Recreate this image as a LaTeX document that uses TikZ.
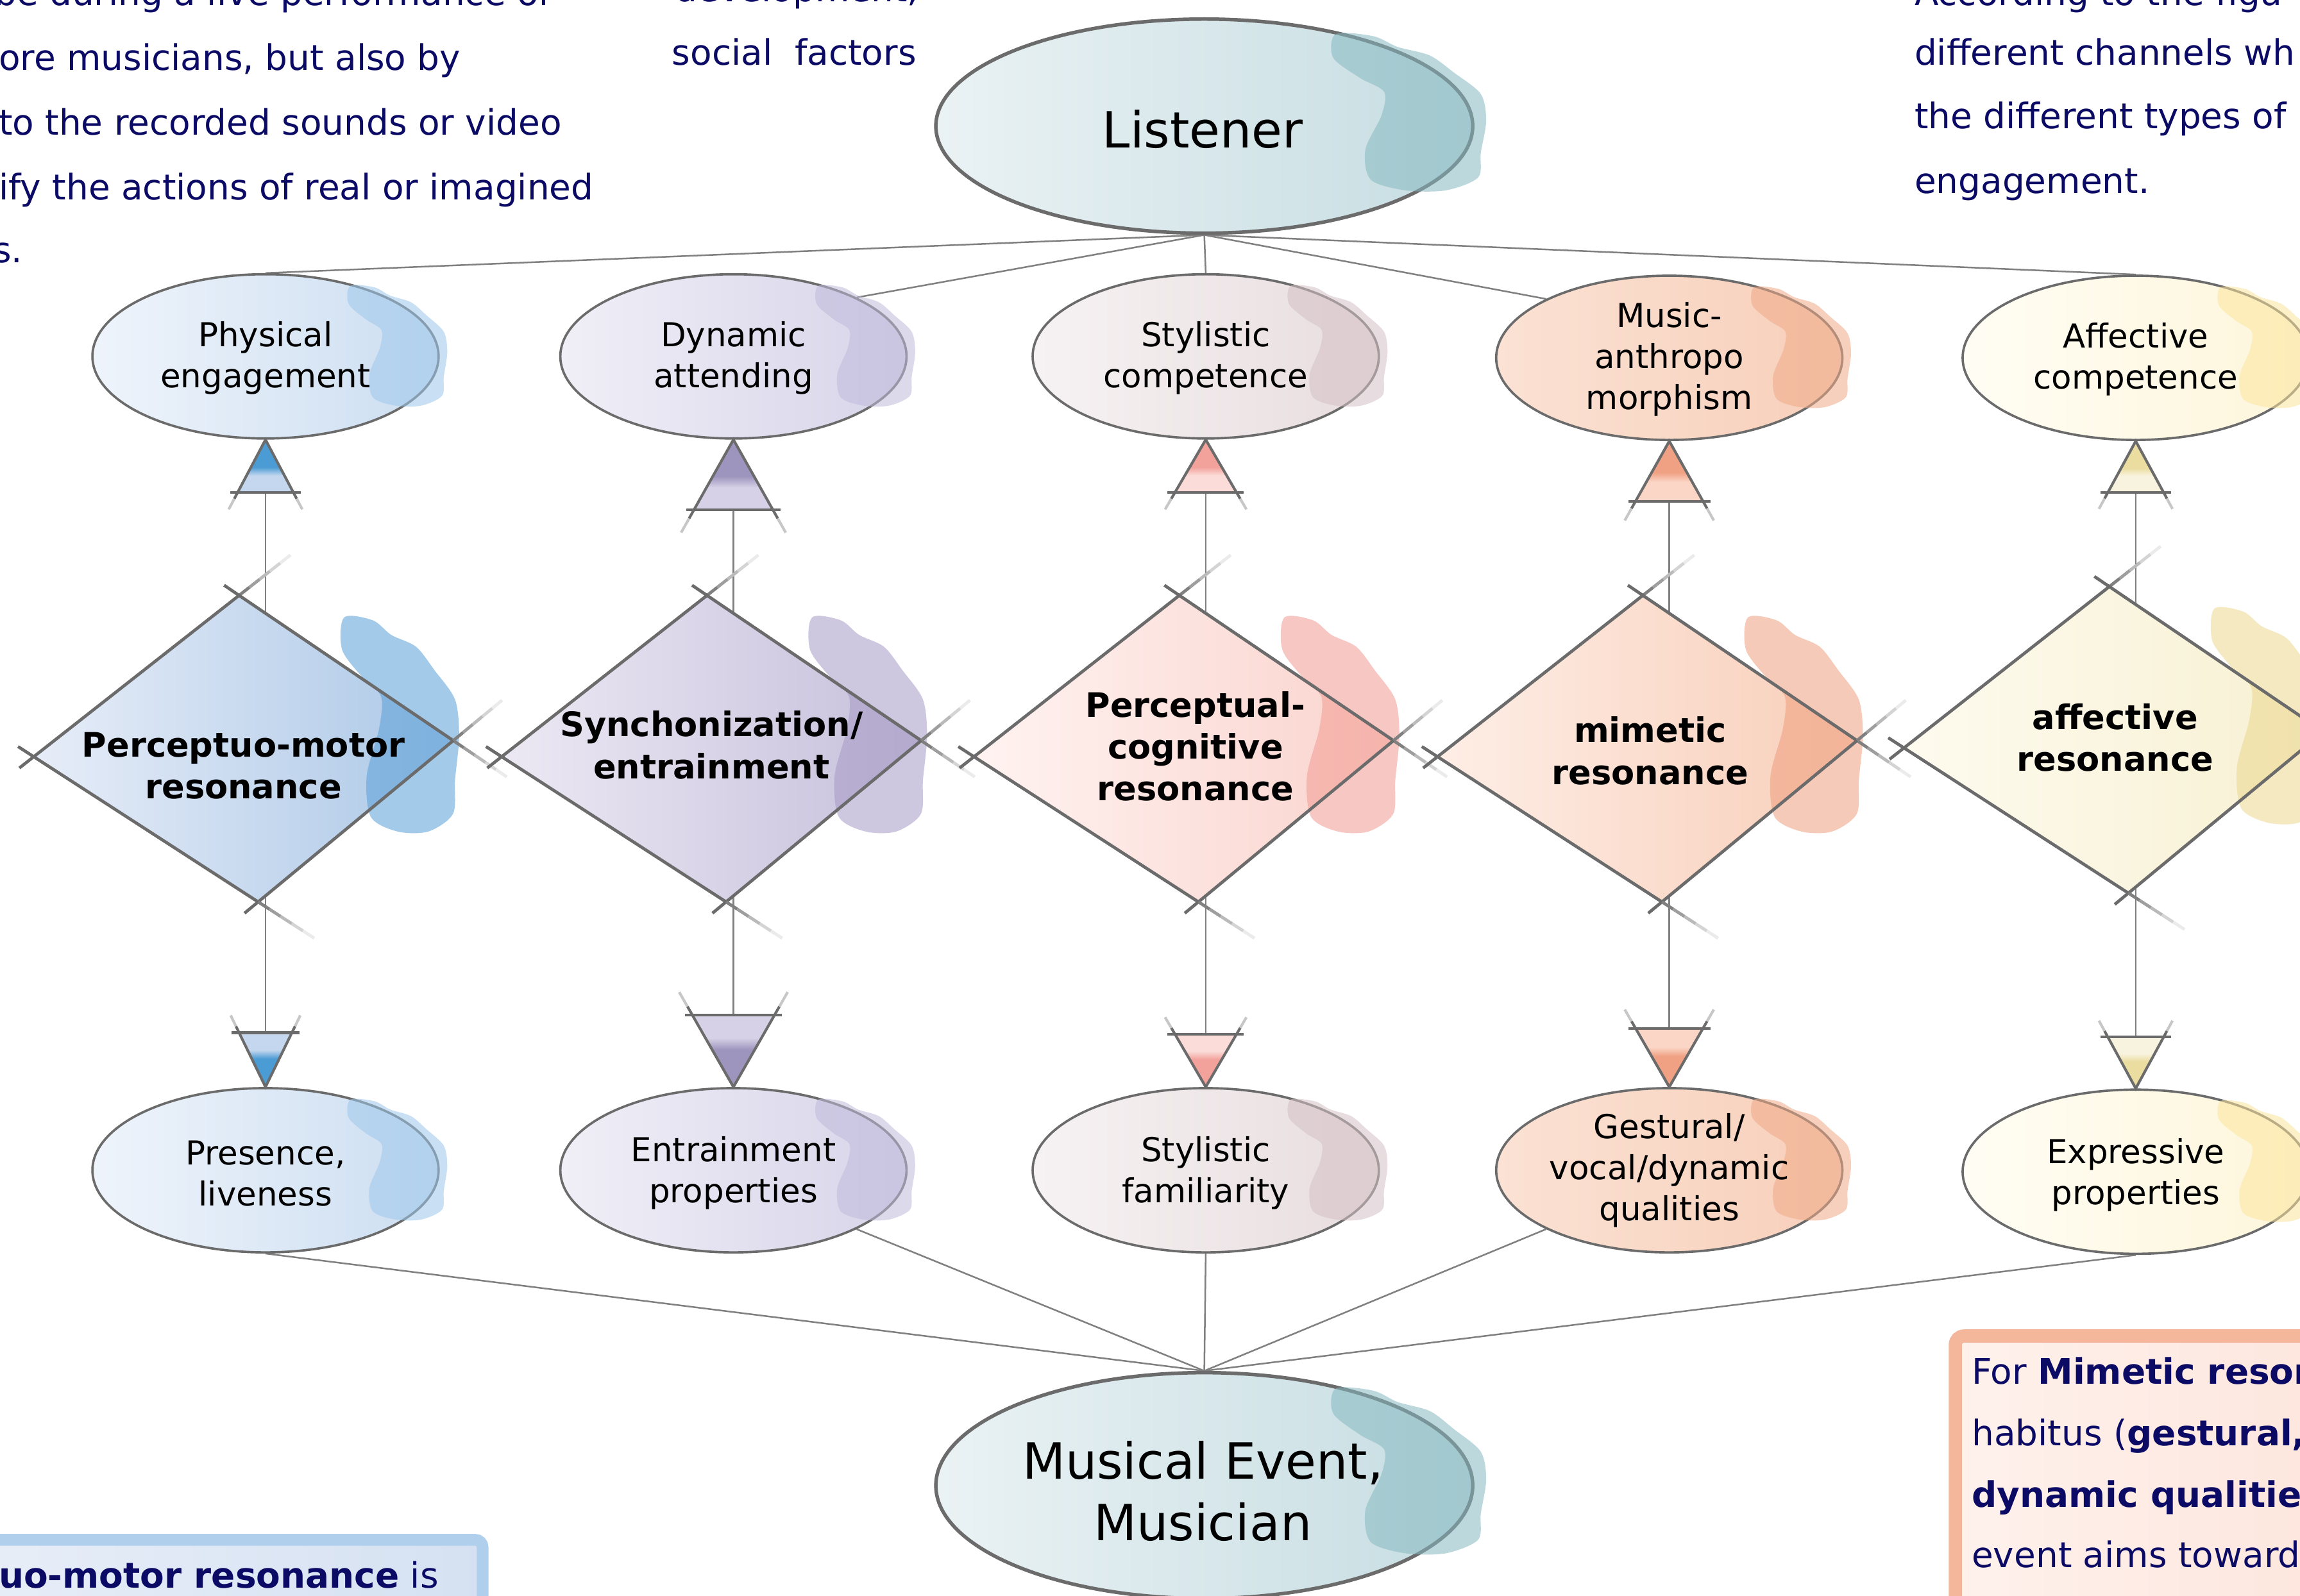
\documentclass[tikz,border=0pt]{standalone}
\usepackage{fontspec}
\setmainfont{DejaVu Sans}
\usetikzlibrary{positioning,calc,shapes.geometric}

\definecolor{navy}{HTML}{0B0B66}
\definecolor{rim}{HTML}{6B6B6B}
\definecolor{hubL}{HTML}{EAF2F4}\definecolor{hubR}{HTML}{C6DDE2}\definecolor{hubS}{HTML}{86B9C1}
\definecolor{blueL}{HTML}{EFF4FB}\definecolor{blueR}{HTML}{CCDEF1}\definecolor{blueS}{HTML}{9EC8EB}
\definecolor{blueDL}{HTML}{E7EDF8}\definecolor{blueDR}{HTML}{ACC8E7}\definecolor{blueDS}{HTML}{5AA0D8}
\definecolor{blueT}{HTML}{4B9BD5}\definecolor{blueU}{HTML}{C4D7EE}
\definecolor{lavL}{HTML}{F0EFF7}\definecolor{lavR}{HTML}{D7D4E9}\definecolor{lavS}{HTML}{C0BADB}
\definecolor{lavDL}{HTML}{ECE9F4}\definecolor{lavDR}{HTML}{C6BFDB}\definecolor{lavDS}{HTML}{A59AC5}
\definecolor{lavT}{HTML}{9E95BE}\definecolor{lavU}{HTML}{D6D1E6}
\definecolor{pinkL}{HTML}{F6F2F3}\definecolor{pinkR}{HTML}{E8DDDF}\definecolor{pinkS}{HTML}{D5C1C5}
\definecolor{pinkDL}{HTML}{FFF3F1}\definecolor{pinkDR}{HTML}{FAD3CD}\definecolor{pinkDS}{HTML}{F29C93}
\definecolor{pinkT}{HTML}{F3A19B}\definecolor{pinkU}{HTML}{FBDCD8}
\definecolor{salmL}{HTML}{FBE2D4}\definecolor{salmR}{HTML}{F7CFBA}\definecolor{salmS}{HTML}{EFAA87}
\definecolor{salmDL}{HTML}{FEEEE6}\definecolor{salmDR}{HTML}{F8CEB9}\definecolor{salmDS}{HTML}{EF9F7E}
\definecolor{salmT}{HTML}{F0A083}\definecolor{salmU}{HTML}{FBD6C6}
\definecolor{yellL}{HTML}{FFFDF4}\definecolor{yellR}{HTML}{FEF6DB}\definecolor{yellS}{HTML}{FBE59D}
\definecolor{yellDL}{HTML}{FEFBEF}\definecolor{yellDR}{HTML}{F7F0D2}\definecolor{yellDS}{HTML}{ECD78E}
\definecolor{yellT}{HTML}{EBDC9F}\definecolor{yellU}{HTML}{F8F3DF}
\definecolor{boxblue}{HTML}{AFCFEC}\definecolor{boxblueL}{HTML}{E9EFF8}\definecolor{boxblueR}{HTML}{D5E1F2}
\definecolor{boxsalm}{HTML}{F4B79B}\definecolor{boxsalmL}{HTML}{FEF1EC}\definecolor{boxsalmR}{HTML}{FDE5DC}

\pgfdeclareverticalshading{tipblue}{100bp}{color(0bp)=(blueU); color(41bp)=(blueU); color(49bp)=(blueT); color(100bp)=(blueT)}
\pgfdeclareverticalshading{tiplav}{100bp}{color(0bp)=(lavU); color(41bp)=(lavU); color(49bp)=(lavT); color(100bp)=(lavT)}
\pgfdeclareverticalshading{tippink}{100bp}{color(0bp)=(pinkU); color(41bp)=(pinkU); color(49bp)=(pinkT); color(100bp)=(pinkT)}
\pgfdeclareverticalshading{tipsalm}{100bp}{color(0bp)=(salmU); color(41bp)=(salmU); color(49bp)=(salmT); color(100bp)=(salmT)}
\pgfdeclareverticalshading{tipyell}{100bp}{color(0bp)=(yellU); color(41bp)=(yellU); color(49bp)=(yellT); color(100bp)=(yellT)}

\pgfdeclarelayer{bg}
\pgfsetlayers{bg,main}

\tikzset{
  hub/.style={ellipse, draw=rim, line width=2.4, minimum width=366, minimum height=146, inner sep=0, left color=hubL, right color=hubR},
  cell/.style={ellipse, draw=rim, line width=1.6, minimum width=236, minimum height=112, inner sep=0},
  lbl/.style={align=center, font=\fontsize{22.5}{28}\selectfont, inner sep=0},
  rlabel/.style={align=center, font=\fontsize{23}{28.5}\selectfont\bfseries, inner sep=0},
  link/.style={draw=black!50, line width=1.1},
  rimline/.style={draw=rim, line width=2.1},
  tipline/.style={draw=rim, line width=1.8},
  note/.style={anchor=base west, text=navy, font=\fontsize{24}{44}\selectfont, inner sep=0},
}

% watercolour patch on the right of a shape
\newcommand\splash[4]{\fill[#4, opacity=.55, shift={#1}, xscale=#2, yscale=#3] plot[smooth cycle] coordinates {(.49,-.86) (.63,-.84) (.72,-.74) (.84,-.66) (.93,-.5) (1.03,-.3) (1.05,-.05) (1.03,.25) (1.02,.48) (.9,.6) (.75,.6) (.62,.5) (.6,.22) (.66,-.1) (.67,-.32) (.58,-.45) (.48,-.64)};}
% sketchy edge: short overshoot at #1, fading overshoot at #2
\newcommand\skedge[2]{%
  \draw[rimline] ($(#2)!1.07!(#1)$) -- (#2);
  \foreach \k/\sh in {0/50,1/38,2/27,3/17,4/8}{%
    \pgfmathsetmacro\sa{1+0.05*\k}\pgfmathsetmacro\sb{1.05+0.05*\k}%
    \draw[rimline, draw=black!\sh] ($(#1)!\sa!(#2)$) -- ($(#1)!\sb!(#2)$);}%
}
% diamond: name, centre, left colour, right colour, patch colour
\newcommand\rhomb[5]{%
  \coordinate (#1-l) at ($(#2)+(-158,9)$);
  \coordinate (#1-t) at ($(#2)+(-18,-101)$);
  \coordinate (#1-r) at ($(#2)+(128,-2)$);
  \coordinate (#1-b) at ($(#2)+(-5,108)$);
  \shade[left color=#3, right color=#4] (#1-l) -- (#1-t) -- (#1-r) -- (#1-b) -- cycle;
  \splash{($(#2)+(-15,0)$)}{140}{100}{#5}
  \skedge{#1-l}{#1-t}\skedge{#1-t}{#1-r}\skedge{#1-b}{#1-r}\skedge{#1-l}{#1-b}
}
% open triangle tip: apex, half width, length, shading, shading angle
\newcommand\arrowtri[5]{%
  \shade[shading=#4, shading angle=#5] (#1) -- ++(-#2,#3) -- ++(2*#2,0) -- cycle;
  \draw[tipline] ($(#1)+(-#2-5,#3)$) -- ++(2*#2+10,0);
  \draw[tipline] ($(#1)+1.12*(-#2,#3)$) -- (#1) -- ($(#1)+1.12*(#2,#3)$);
  \draw[tipline, draw=black!22] ($(#1)+1.12*(-#2,#3)$) -- ($(#1)+1.32*(-#2,#3)$);
  \draw[tipline, draw=black!22] ($(#1)+1.12*(#2,#3)$) -- ($(#1)+1.32*(#2,#3)$);
}

\begin{document}
\begin{tikzpicture}[x=1pt,y=-1pt]
\useasboundingbox (0,0) rectangle (1568,1088);
\clip (0,0) rectangle (1568,1088);
%
% listener and musical event
\node[hub] (lis) at (821,86) {};
\splash{(lis)}{183}{73}{hubS}
\node[font=\fontsize{34}{42}\selectfont] (lis-t) at (820,88) {Listener};
\node[hub, minimum height=154] (mev) at (821,1013) {};
\splash{(mev)}{183}{77}{hubS}
\node[align=center, font=\fontsize{34}{42}\selectfont] (mev-t) at (820,1017) {Musical Event,\\Musician};
%
% top row
\node[cell, left color=blueL, right color=blueR] (phys) at (181,243) {};
\splash{(phys)}{118}{56}{blueS}
\node[lbl] (phys-t) at (181,244) {Physical\\engagement};
\node[cell, left color=lavL, right color=lavR] (dyn) at (500,243) {};
\splash{(dyn)}{118}{56}{lavS}
\node[lbl] (dyn-t) at (500,244) {Dynamic\\attending};
\node[cell, left color=pinkL, right color=pinkR] (sty) at (822,243) {};
\splash{(sty)}{118}{56}{pinkS}
\node[lbl] (sty-t) at (822,244) {Stylistic\\competence};
\node[cell, left color=salmL, right color=salmR] (mus) at (1138,244) {};
\splash{(mus)}{118}{56}{salmS}
\node[lbl] (mus-t) at (1138,245) {Music-\\anthropo\\morphism};
\node[cell, left color=yellL, right color=yellR] (aff) at (1456,244) {};
\splash{(aff)}{118}{56}{yellS}
\node[lbl] (aff-t) at (1456,245) {Affective\\competence};
%
% bottom row
\node[cell, left color=blueL, right color=blueR] (pres) at (181,798) {};
\splash{(pres)}{118}{56}{blueS}
\node[lbl] (pres-t) at (181,800) {Presence,\\liveness};
\node[cell, left color=lavL, right color=lavR] (entr) at (500,798) {};
\splash{(entr)}{118}{56}{lavS}
\node[lbl] (entr-t) at (500,800) {Entrainment\\properties};
\node[cell, left color=pinkL, right color=pinkR] (fam) at (822,798) {};
\splash{(fam)}{118}{56}{pinkS}
\node[lbl] (fam-t) at (822,800) {Stylistic\\familiarity};
\node[cell, left color=salmL, right color=salmR] (gest) at (1138,798) {};
\splash{(gest)}{118}{56}{salmS}
\node[lbl] (gest-t) at (1138,798) {Gestural/\\vocal/dynamic\\qualities};
\node[cell, left color=yellL, right color=yellR] (expr) at (1456,799) {};
\splash{(expr)}{118}{56}{yellS}
\node[lbl] (expr-t) at (1456,801) {Expressive\\properties};
%
% resonance diamonds
\rhomb{pmd}{181,507}{blueDL}{blueDR}{blueDS}
\node[rlabel] (pm) at (166,522) {Perceptuo-motor\\resonance};
\rhomb{synd}{500,507}{lavDL}{lavDR}{lavDS}
\node[rlabel] (sync) at (485,508) {Synchonization/\\entrainment};
\rhomb{pcd}{822,507}{pinkDL}{pinkDR}{pinkDS}
\node[rlabel] (pc) at (815,509) {Perceptual-\\cognitive\\resonance};
\rhomb{mimd}{1138,507}{salmDL}{salmDR}{salmDS}
\node[rlabel] (mim) at (1125,512) {mimetic\\resonance};
\rhomb{ard}{1456,501}{yellDL}{yellDR}{yellDS}
\node[rlabel] (ar) at (1442,503) {affective\\resonance};
%
% tips
\arrowtri{phys.south}{19}{36}{tipblue}{0}
\arrowtri{dyn.south}{27}{48}{tiplav}{0}
\arrowtri{sty.south}{21}{36}{tippink}{0}
\arrowtri{mus.south}{23}{41}{tipsalm}{0}
\arrowtri{aff.south}{19}{35}{tipyell}{0}
\arrowtri{pres.north}{18}{-37}{tipblue}{180}
\arrowtri{entr.north}{28}{-49}{tiplav}{180}
\arrowtri{fam.north}{21}{-36}{tippink}{180}
\arrowtri{gest.north}{23}{-40}{tipsalm}{180}
\arrowtri{expr.north}{19}{-35}{tipyell}{180}
%
% text around the figure
\node[note] (lt1) at (-4,3.6) {be during a live performance of};
\node[note] (lt2) at (-1,48) {ore musicians, but also by};
\node[note] (lt3) at (-1,92) {to the recorded sounds or video};
\node[note] (lt4) at (-1,136) {ify the actions of real or imagined};
\node[note] (lt5) at (-5,179) {s.};
\node[note] (mt1) at (460,1) {development,};
\node[note] (mt2) at (458,44.5) {social\ \ factors};
\node[note] (rt1) at (1305,3.6) {According to the figu};
\node[note] (rt2) at (1305,44.5) {different channels wh};
\node[note] (rt3) at (1305,87.5) {the different types of};
\node[note] (rt4) at (1305,132) {engagement.};
%
\draw[line width=8, draw=boxblue, left color=boxblueL, right color=boxblueR, rounded corners=5] (-40,1050) rectangle (329,1130);
\node[note] (bl) at (-1,1083) {\textbf{uo-motor resonance} is};
\draw[line width=9, draw=boxsalm, left color=boxsalmL, right color=boxsalmR, rounded corners=6] (1333,911) rectangle (1620,1130);
\node[note] (br1) at (1344,943.6) {For \textbf{Mimetic reson}};
\node[note] (br2) at (1344,985.6) {habitus (\textbf{gestural,v}};
\node[note] (br3) at (1344,1027.6) {\textbf{dynamic qualities}};
\node[note] (br4) at (1344,1069) {event aims towards};
%
% connectors
\begin{pgfonlayer}{bg}
\fill[white] (0,0) rectangle (1568,1088);
\draw[link] (phys.north) -- (lis.south);
\draw[link] (dyn.north east) -- (lis.south);
\draw[link] (sty.north) -- (lis.south);
\draw[link] (mus.north west) -- (lis.south);
\draw[link] (aff.north) -- (lis.south);
\draw[link] (pres.south) -- (mev.north);
\draw[link] (entr.south east) -- (mev.north);
\draw[link] (fam.south) -- (mev.north);
\draw[link] (gest.south west) -- (mev.north);
\draw[link] (expr.south) -- (mev.north);
\draw[link] ($(phys.south)+(0,36)$) -- (phys |- pm);
\draw[link] ($(dyn.south)+(0,48)$) -- (dyn |- sync);
\draw[link] ($(sty.south)+(0,36)$) -- (sty |- pc);
\draw[link] ($(mus.south)+(0,41)$) -- (mus |- mim);
\draw[link] ($(aff.south)+(0,35)$) -- (aff |- ar);
\draw[link] ($(pres.north)+(0,-37)$) -- (pres |- pm);
\draw[link] ($(entr.north)+(0,-49)$) -- (entr |- sync);
\draw[link] ($(fam.north)+(0,-36)$) -- (fam |- pc);
\draw[link] ($(gest.north)+(0,-40)$) -- (gest |- mim);
\draw[link] ($(expr.north)+(0,-35)$) -- (expr |- ar);
\end{pgfonlayer}
\end{tikzpicture}
\end{document}
